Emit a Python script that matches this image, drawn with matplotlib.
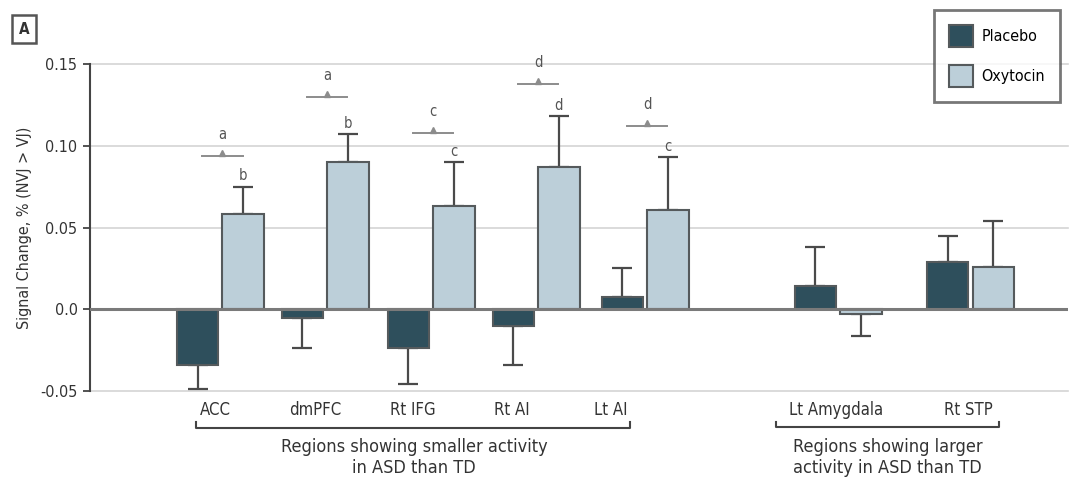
import matplotlib
matplotlib.use("Agg")
import matplotlib.pyplot as plt
import numpy as np

plt.rcParams['font.family'] = ['Liberation Sans Narrow', 'DejaVu Sans']
plt.rcParams['font.stretch'] = 'condensed'

# ---------------- data ----------------
regions = ["ACC", "dmPFC", "Rt IFG", "Rt AI", "Lt AI", "Lt Amygdala", "Rt STP"]
placebo = [-0.034, -0.0055, -0.024, -0.010, 0.0075, 0.014, 0.029]
placebo_err = [0.015, 0.018, 0.022, 0.024, 0.018, 0.024, 0.016]
oxytocin = [0.058, 0.090, 0.063, 0.087, 0.061, -0.003, 0.026]
oxytocin_err = [0.017, 0.017, 0.027, 0.031, 0.032, 0.0135, 0.028]

# significance annotations (first five regions)
bracket_letters = ["a", "a", "c", "d", "d"]
bracket_levels = [0.094, 0.130, 0.108, 0.138, 0.112]
oxy_letters = ["b", "b", "c", "d", "c"]

yticks = [-0.05, 0.0, 0.05, 0.10, 0.15]
ytick_labels = ["-0.05", "0.0", "0.05", "0.10", "0.15"]
group_labels = ["Regions showing smaller activity\nin ASD than TD",
                "Regions showing larger\nactivity in ASD than TD"]

# ---------------- layout ----------------
xpos = np.array([0.0, 0.99, 1.99, 2.98, 4.01, 5.83, 7.08])
label_pos = np.array([-0.05, 0.90, 1.82, 2.75, 3.68, 5.81, 7.06])
bw = 0.39
off = 0.215

c_plac = "#2e4f5c"
c_oxy = "#bccfd9"
c_edge = "#555a5c"
c_err = "#4a4a4a"

fig = plt.figure(figsize=(10.7, 4.79), dpi=100)
ax = fig.add_axes([90/1070, 88/479, (1068-90)/1070, 327/479])
ax.set_xlim(-1.23, 8.0)
ax.set_ylim(-0.05, 0.15)

# grid lines
for yv in [-0.05, 0.05, 0.10, 0.15]:
    ax.axhline(yv, color="#d4d4d4", lw=1.2, zorder=0, clip_on=False)

def errs(vals, e):
    lo = [ee if v < 0 else 0 for v, ee in zip(vals, e)]
    hi = [ee if v >= 0 else 0 for v, ee in zip(vals, e)]
    return [lo, hi]

ax.bar(xpos - off, placebo, width=bw, color=c_plac, edgecolor=c_edge, linewidth=1.5,
       zorder=3, label="Placebo")
ax.bar(xpos + off, oxytocin, width=bw, color=c_oxy, edgecolor=c_edge, linewidth=1.5,
       zorder=3, label="Oxytocin")
ax.errorbar(xpos - off, placebo, yerr=errs(placebo, placebo_err), fmt="none",
            ecolor=c_err, elinewidth=1.6, capsize=7, capthick=1.6, zorder=2)
ax.errorbar(xpos + off, oxytocin, yerr=errs(oxytocin, oxytocin_err), fmt="none",
            ecolor=c_err, elinewidth=1.6, capsize=7, capthick=1.6, zorder=2)

ax.axhline(0, color="#7a7a7a", lw=2.2, zorder=4)

# annotations
for i, (lt, lv, ol) in enumerate(zip(bracket_letters, bracket_levels, oxy_letters)):
    xc = xpos[i] + 0.02
    ax.plot([xc - 0.19, xc + 0.19], [lv, lv], color="#8c8c8c", lw=1.4,
            clip_on=False, zorder=5)
    ax.plot([xc], [lv + 0.0018], marker="^", ms=4.5, color="#8c8c8c",
            clip_on=False, zorder=5)
    ax.text(xc, lv + 0.013, lt, ha="center", va="center", fontsize=10.5,
            color="#555555", clip_on=False)
    top = oxytocin[i] + oxytocin_err[i]
    ax.text(xpos[i] + off, top + 0.0065, ol, ha="center", va="center", fontsize=10.5,
            color="#555555", clip_on=False)

# axes styling
for s in ["top", "right", "bottom"]:
    ax.spines[s].set_visible(False)
ax.spines["left"].set_color("#444444")
ax.spines["left"].set_linewidth(1.5)
ax.set_yticks(yticks)
ax.set_yticklabels(ytick_labels, fontsize=11.5, color="#333333")
ax.tick_params(axis="y", length=5, width=1.3, color="#444444", pad=4)
ax.set_xticks([])
ax.set_ylabel("Signal Change, % (NVJ > VJ)", fontsize=11.5, color="#333333", labelpad=6)

# category labels
for lp, name in zip(label_pos, regions):
    ax.text(lp, -0.0615, name, ha="center", va="center", fontsize=12,
            color="#333333", clip_on=False)

# group brackets
def bracket(x0, x1, y, h=0.0035):
    ax.plot([x0, x0, x1, x1], [y + h, y, y, y + h], color="#444444", lw=1.5,
            clip_on=False)

bracket(-0.23, 3.87, -0.0725)
bracket(5.24, 7.35, -0.0723)
ax.text(1.83, -0.0905, group_labels[0], ha="center", va="center", fontsize=13,
        color="#333333", clip_on=False, linespacing=1.2)
ax.text(6.3, -0.0905, group_labels[1], ha="center", va="center", fontsize=13,
        color="#333333", clip_on=False, linespacing=1.2)

# legend
leg = ax.legend(loc="upper right", bbox_to_anchor=(1060/1070, 1 - 10/479),
                bbox_transform=fig.transFigure, frameon=True, fancybox=False,
                fontsize=11.5, handlelength=1.5, handleheight=1.75, borderaxespad=0,
                borderpad=0.95, labelspacing=1.1, handletextpad=0.5)
leg.get_frame().set_edgecolor("#555555")
leg.get_frame().set_linewidth(2.0)
leg.set_zorder(10)

# panel label
fig.text(24/1070, 1 - 29/479, "A", ha="center", va="center", fontsize=11,
         fontweight="bold", color="#333333",
         bbox=dict(boxstyle="square,pad=0.45", fc="white", ec="#555555", lw=1.8))

fig.savefig("out.png", dpi=100)
